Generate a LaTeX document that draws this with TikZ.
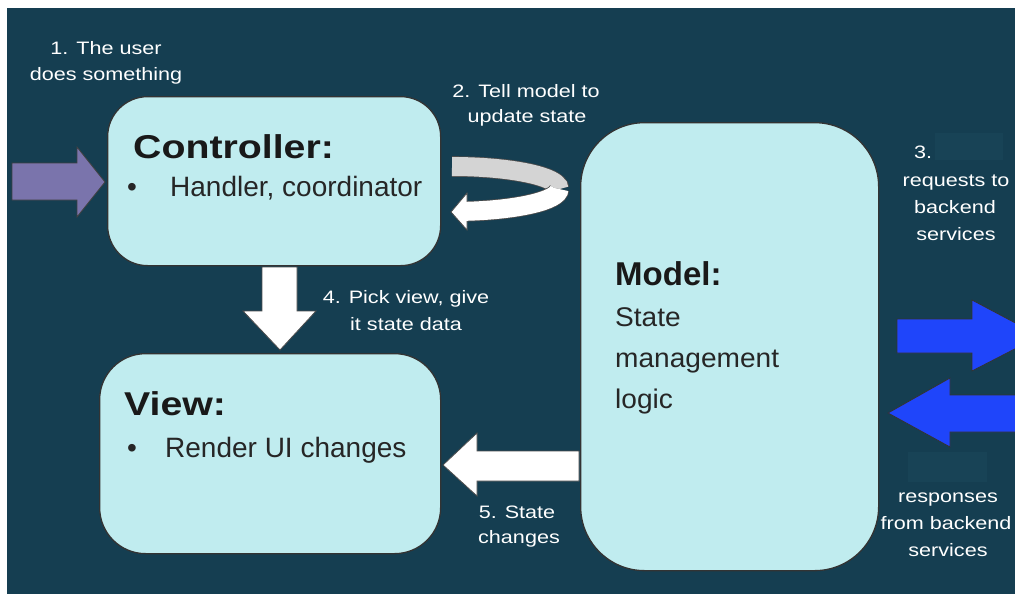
\documentclass[tikz,border=0pt]{standalone}
\usepackage{fontspec}
\setmainfont{Liberation Sans}
\newfontfamily\lblfont[FakeStretch=1.2]{Liberation Sans}
\newfontfamily\ttlfont[FakeStretch=1.19]{Liberation Sans}
\newfontfamily\bodyfont[FakeStretch=1.04]{Liberation Sans}
\definecolor{bgc}{HTML}{153E51}
\definecolor{faint}{HTML}{184356}
\definecolor{boxc}{HTML}{C0ECEF}
\definecolor{purp}{HTML}{7A74AC}
\definecolor{bluea}{HTML}{1F45FA}
\definecolor{graya}{HTML}{D4D4D4}
\tikzset{
  box/.style={draw=black!80, line width=1.3pt, fill=boxc, anchor=north west, inner sep=0pt},
  lbl/.style={text=white, font=\lblfont\fontsize{18}{20}\selectfont, align=center, inner sep=0pt, anchor=base},
  ttl/.style={text=black!90, anchor=base west, inner sep=0pt},
  body/.style={text=black!85, font=\fontsize{28}{30}\selectfont, anchor=base west, inner sep=0pt},
  blockw/.style={fill=white, draw=black!70, line width=0.8pt, line join=miter},
}
\begin{document}
\begin{tikzpicture}[x=1pt,y=-1pt]
\useasboundingbox (0,0) rectangle (1015,594);
\fill[bgc] (7,8) rectangle (1015,594);
% faint empty text boxes
\fill[faint] (935,133) rectangle (1003,160);
\fill[faint] (908,452) rectangle (987,482);

% boxes
\node[box, minimum width=333pt, minimum height=169pt, rounded corners=40pt] (ctrl) at (107,96) {};
\node[box, minimum width=341pt, minimum height=200pt, rounded corners=46pt] (view) at (99,353) {};
\node[box, minimum width=298pt, minimum height=448pt, rounded corners=64pt] (model) at (580,122) {};

% controller text
\node[ttl, font=\ttlfont\bfseries\fontsize{33}{35}\selectfont] (ctrlt) at (133,158) {Controller:};
\node[body] (ctrlb) at (127,196) {\textbullet};
\node[body] (ctrlh) at (170,196) {Handler, coordinator};

% view text
\node[ttl, font=\ttlfont\bfseries\fontsize{33}{35}\selectfont] (viewt) at (124,415) {View:};
\node[body] (viewb) at (127,457) {\textbullet};
\node[body] (viewr) at (165,457) {Render UI changes};

% model text
\node[ttl, font=\bfseries\fontsize{33}{35}\selectfont] (modelt) at (615,285) {Model:};
\node[body, font=\bodyfont\fontsize{27}{29}\selectfont] (m1) at (615,326) {State};
\node[body, font=\bodyfont\fontsize{27}{29}\selectfont] (m2) at (615,367) {management};
\node[body, font=\bodyfont\fontsize{27}{29}\selectfont] (m3) at (615,408) {logic};

% labels
\node[lbl] (l1a) at (106,55) {1. The user};
\node[lbl] (l1b) at (106,81) {does something};
\node[lbl] (l2a) at (526,97) {2. Tell model to};
\node[lbl] (l2b) at (527,122) {update state};
\node[lbl] (l3a) at (923,158) {3.};
\node[lbl] (l3b) at (956,186) {requests to};
\node[lbl] (l3c) at (955,213) {backend};
\node[lbl] (l3d) at (956,240) {services};
\node[lbl] (l4a) at (406,303) {4. Pick view, give};
\node[lbl] (l4b) at (406,330) {it state data};
\node[lbl] (l5a) at (517,518) {5. State};
\node[lbl] (l5b) at (519,543) {changes};
\node[lbl] (l6a) at (948,502) {responses};
\node[lbl] (l6b) at (946,529) {from backend};
\node[lbl] (l6c) at (948,556) {services};

% 1. purple input arrow
\filldraw[fill=purp, draw=black!75, line width=0.8pt]
  (12,163) -- (77,163) -- (77,147) -- (105,182) -- (77,217) -- (77,200) -- (12,200) -- cycle;

% 2. U-turn arrow (centre 452,189)
\coordinate (uc) at (452,189);
\draw[black!70, line width=20.6pt] (452,166.5) arc[start angle=-90, end angle=0, x radius=107, y radius=22.5];
\draw[graya, line width=19pt] (452,166.5) arc[start angle=-90, end angle=0.5, x radius=107, y radius=22.5];
\draw[black!70, line width=20.6pt] (559,189) arc[start angle=0, end angle=83, x radius=107, y radius=22.5];
\filldraw[blockw] (467,193) -- (451,212) -- (467,230) -- cycle;
\draw[white, line width=19pt] (559,189) arc[start angle=0, end angle=84, x radius=107, y radius=22.5];

% 4. down arrow
\filldraw[blockw]
  (262,267) -- (297,267) -- (297,311) -- (316,311) -- (280,350) -- (243,311) -- (262,311) -- cycle;

% 5. left arrow from model to view
\filldraw[blockw]
  (579,451) -- (477,451) -- (477,433) -- (443,465) -- (477,496) -- (477,481) -- (579,481) -- cycle;

% 3. backend arrows
\filldraw[fill=bluea, draw=black!80, line width=0.8pt]
  (897,319) -- (972,319) -- (972,300) -- (1040,336) -- (972,371) -- (972,353) -- (897,353) -- cycle;
\filldraw[fill=bluea, draw=black!80, line width=0.8pt]
  (888,413) -- (950,378) -- (950,395) -- (1030,395) -- (1030,432) -- (950,432) -- (950,447) -- cycle;
\end{tikzpicture}
\end{document}
